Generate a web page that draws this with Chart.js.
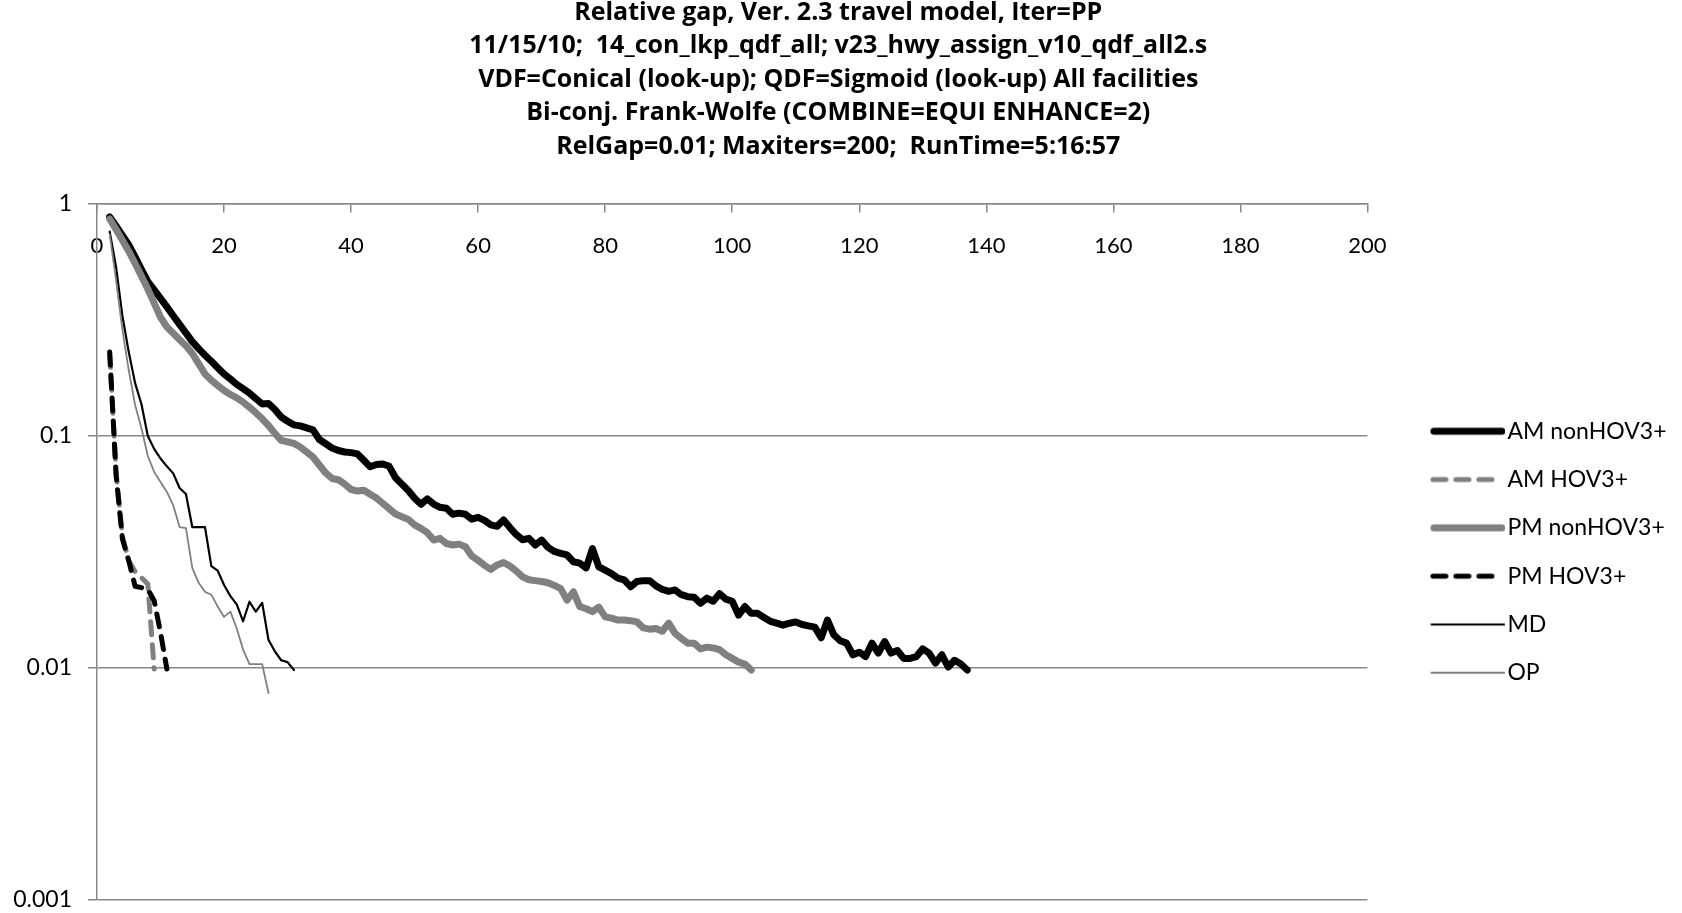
<!DOCTYPE html>
<html>
<head>
<meta charset="utf-8">
<title>Relative gap</title>
<script src="https://cdn.jsdelivr.net/npm/chart.js@4.4.1/dist/chart.umd.min.js"></script>
<style>
    html, body { margin: 0; padding: 0; background: #ffffff; }
    #chart-box { width: 1682px; height: 913px; }
</style>
</head>
<body>
<div id="chart-box"><canvas id="gapChart"></canvas></div>
<script>
// --- Dados ---
const TITLE_LINES = [
    'Relative gap, Ver. 2.3 travel model, Iter=PP',
    '11/15/10;  14_con_lkp_qdf_all; v23_hwy_assign_v10_qdf_all2.s',
    'VDF=Conical (look-up); QDF=Sigmoid (look-up) All facilities',
    'Bi-conj. Frank-Wolfe (COMBINE=EQUI ENHANCE=2)',
    'RelGap=0.01; Maxiters=200;  RunTime=5:16:57'
];

const FIRST_ITER = 2; // a primeira iteração com gap calculado
const X_TICKS = [0, 20, 40, 60, 80, 100, 120, 140, 160, 180, 200];
const Y_TICKS = [0.001, 0.01, 0.1, 1];

const SERIES_NAMES = ['AM nonHOV3+', 'AM HOV3+', 'PM nonHOV3+', 'PM HOV3+', 'MD', 'OP'];

const amNonHov = [
    0.88, 0.804, 0.732, 0.666, 0.592, 0.522, 0.463, 0.426, 0.392, 0.360,
    0.330, 0.303, 0.278, 0.255, 0.238, 0.223, 0.210, 0.197, 0.185, 0.176,
    0.167, 0.160, 0.153, 0.145, 0.1375, 0.138, 0.130, 0.1207, 0.1158, 0.1117,
    0.1106, 0.1084, 0.1063, 0.0966, 0.0926, 0.0888, 0.0866, 0.0853, 0.0848, 0.0837,
    0.0786, 0.0737, 0.0754, 0.0758, 0.0740, 0.0661, 0.0620, 0.0582, 0.0539, 0.0508,
    0.0536, 0.0509, 0.0493, 0.0488, 0.0460, 0.0465, 0.0460, 0.0438, 0.0446, 0.0433,
    0.0414, 0.0408, 0.0435, 0.0403, 0.0376, 0.0357, 0.0362, 0.0339, 0.0356, 0.0331,
    0.0318, 0.0312, 0.0307, 0.0287, 0.0283, 0.0270, 0.0327, 0.0273, 0.0264, 0.0255,
    0.0244, 0.0240, 0.0224, 0.0236, 0.0238, 0.0238, 0.0226, 0.0218, 0.0214, 0.0217,
    0.0207, 0.0203, 0.0202, 0.0190, 0.0200, 0.0194, 0.0209, 0.0198, 0.0194, 0.0169,
    0.0184, 0.0172, 0.0172, 0.0165, 0.0159, 0.0156, 0.0153, 0.0156, 0.0158, 0.0154,
    0.0152, 0.0150, 0.0135, 0.0161, 0.0139, 0.0131, 0.0128, 0.0114, 0.0117, 0.0112,
    0.0128, 0.0116, 0.0130, 0.0116, 0.0119, 0.0110, 0.0110, 0.0112, 0.0121, 0.0116,
    0.0105, 0.0114, 0.0101, 0.0108, 0.0104, 0.0098
];

const amHov = [0.225, 0.070, 0.037, 0.029, 0.026, 0.0245, 0.0230, 0.0099];

const pmNonHov = [
    0.862, 0.777, 0.698, 0.626, 0.554, 0.489, 0.430, 0.374, 0.325, 0.295,
    0.277, 0.260, 0.245, 0.227, 0.205, 0.185, 0.174, 0.165, 0.157, 0.151,
    0.146, 0.140, 0.133, 0.126, 0.1186, 0.1110, 0.1026, 0.0958, 0.0943, 0.0929,
    0.0897, 0.0853, 0.0812, 0.0750, 0.0693, 0.0656, 0.0648, 0.0620, 0.0588, 0.0579,
    0.0584, 0.0561, 0.0540, 0.0512, 0.0486, 0.0461, 0.0449, 0.0437, 0.0414, 0.0400,
    0.0383, 0.0356, 0.0362, 0.0344, 0.0339, 0.0342, 0.0333, 0.0304, 0.0291, 0.0277,
    0.0266, 0.0278, 0.0285, 0.0275, 0.0262, 0.0247, 0.0240, 0.0238, 0.0236, 0.0233,
    0.0227, 0.0220, 0.0196, 0.0213, 0.0184, 0.0180, 0.0175, 0.0183, 0.0166, 0.0164,
    0.0161, 0.0161, 0.0160, 0.0158, 0.0149, 0.0147, 0.0148, 0.0144, 0.0156, 0.0141,
    0.0134, 0.0128, 0.0128, 0.0121, 0.0123, 0.0122, 0.0120, 0.0114, 0.0110, 0.0106,
    0.0104, 0.0098
];

const pmHov = [0.230, 0.068, 0.036, 0.029, 0.0225, 0.0222, 0.0218, 0.0195, 0.0142, 0.0099];

const md = [
    0.76, 0.535, 0.329, 0.230, 0.169, 0.137, 0.100, 0.088, 0.080, 0.074,
    0.069, 0.0597, 0.0562, 0.0405, 0.0405, 0.0405, 0.0275, 0.0263, 0.0228, 0.0204,
    0.0188, 0.0159, 0.0193, 0.0175, 0.0191, 0.0132, 0.0118, 0.0108, 0.0106, 0.0098
];

const op = [
    0.74, 0.470, 0.287, 0.192, 0.136, 0.108, 0.082, 0.070, 0.0633, 0.0574,
    0.0503, 0.0405, 0.0401, 0.0270, 0.0233, 0.0213, 0.0207, 0.0184, 0.0166, 0.0175,
    0.0148, 0.0120, 0.0104, 0.0104, 0.0104, 0.0078
];

// --- Estilo ---
const BLACK = '#000000';
const GRAY = '#808080';
const GRID_COLOR = '#888888';
const FONT = 'Lato, "Open Sans", sans-serif';
const TITLE_FONT = '"Open Sans", "Liberation Sans", sans-serif';
const DASH = [13, 10];

// converte a lista de valores em pontos {iteração, gap}
function toPoints(values) {
    return values.map((v, i) => ({ x: FIRST_ITER + i, y: v }));
}

function lineDataset(label, values, color, width, dash, order) {
    return {
        label: label,
        data: toPoints(values),
        borderColor: color,
        backgroundColor: color,
        borderWidth: width,
        borderDash: dash,
        borderCapStyle: 'round',
        borderJoinStyle: 'round',
        pointRadius: 0,
        pointHoverRadius: 0,
        tension: 0,
        fill: false,
        order: order // Excel desenha a última série por cima
    };
}

const datasets = [
    lineDataset(SERIES_NAMES[0], amNonHov, BLACK, 7, [], 6),
    lineDataset(SERIES_NAMES[1], amHov, GRAY, 5, DASH, 5),
    lineDataset(SERIES_NAMES[2], pmNonHov, GRAY, 7, [], 4),
    lineDataset(SERIES_NAMES[3], pmHov, BLACK, 5, DASH, 3),
    lineDataset(SERIES_NAMES[4], md, BLACK, 2.2, [], 2),
    lineDataset(SERIES_NAMES[5], op, GRAY, 1.8, [], 1)
];

// --- Legenda ---
// amostra de linha como imagem: encosta no texto, como no Excel
const SAMPLE_W = 85;
const SAMPLE_H = 12;

function legendSample(ds) {
    const c = document.createElement('canvas');
    c.width = SAMPLE_W;
    c.height = SAMPLE_H;
    const g = c.getContext('2d');
    const dashed = ds.borderDash.length > 0;
    const half = ds.borderWidth / 2;
    g.strokeStyle = ds.borderColor;
    g.lineWidth = ds.borderWidth;
    g.lineCap = ds.borderCapStyle;
    g.setLineDash(ds.borderDash);
    g.beginPath();
    g.moveTo(10 + half, SAMPLE_H / 2);
    g.lineTo(dashed ? 71.5 : SAMPLE_W - half, SAMPLE_H / 2);
    g.stroke();
    return c;
}

function legendLabels(chart) {
    const items = Chart.defaults.plugins.legend.labels.generateLabels(chart);
    items.forEach((item) => {
        item.pointStyle = legendSample(chart.data.datasets[item.datasetIndex]);
    });
    return items;
}

// --- Gráfico ---
const ctx = document.getElementById('gapChart').getContext('2d');
const chart = new Chart(ctx, {
    type: 'line',
    data: { datasets: datasets },
    options: {
        responsive: true,
        maintainAspectRatio: false,
        animation: false,
        devicePixelRatio: 1,
        layout: { padding: { left: 0, right: 5.5, top: 0, bottom: 13 } },
        plugins: {
            title: {
                display: true,
                text: TITLE_LINES,
                color: '#000000',
                font: { family: TITLE_FONT, size: 25, weight: 'bold', lineHeight: 33.5 / 25 },
                padding: { top: -4, bottom: 40.5 }
            },
            legend: {
                position: 'right',
                align: 'center',
                fullSize: false,
                labels: {
                    usePointStyle: true,
                    pointStyleWidth: 66,
                    padding: 25.3,
                    color: '#000000',
                    font: { family: FONT, size: 23 },
                    generateLabels: legendLabels,
                    sort: (a, b) => a.datasetIndex - b.datasetIndex
                }
            },
            tooltip: { enabled: false }
        },
        scales: {
            x: {
                type: 'linear',
                position: { y: 1 }, // eixo cruza em 1, como no Excel
                min: 0,
                max: 200,
                afterBuildTicks: (scale) => {
                    scale.ticks = X_TICKS.map(v => ({ value: v }));
                },
                ticks: {
                    color: '#000000',
                    padding: 21,
                    maxRotation: 0,
                    font: { family: FONT, size: 22 }
                },
                grid: {
                    drawOnChartArea: false,
                    drawTicks: true,
                    tickLength: 8,
                    color: GRID_COLOR,
                    lineWidth: 1.5
                },
                border: { display: true, color: GRID_COLOR, width: 1.5 }
            },
            y: {
                type: 'logarithmic',
                position: 'left',
                min: 0.001,
                max: 1,
                afterBuildTicks: (scale) => {
                    scale.ticks = Y_TICKS.map(v => ({ value: v }));
                },
                afterFit: (scale) => {
                    scale.width = 97;
                    // sem folga extra em cima/embaixo por causa dos rótulos
                    scale.paddingTop = 0;
                    scale.paddingBottom = 0;
                },
                ticks: {
                    color: '#000000',
                    padding: 16,
                    font: { family: FONT, size: 23 },
                    callback: (value) => String(value)
                },
                grid: {
                    color: GRID_COLOR,
                    lineWidth: 1.5,
                    tickLength: 9
                },
                border: { display: true, color: GRID_COLOR, width: 1.5 }
            },
            // espaço vazio entre a área do gráfico e a legenda
            gap: {
                type: 'linear',
                position: 'right',
                display: true,
                afterFit: (scale) => { scale.width = 37.2; },
                ticks: { display: false },
                grid: { display: false },
                border: { display: false }
            }
        }
    }
});
</script>
</body>
</html>
